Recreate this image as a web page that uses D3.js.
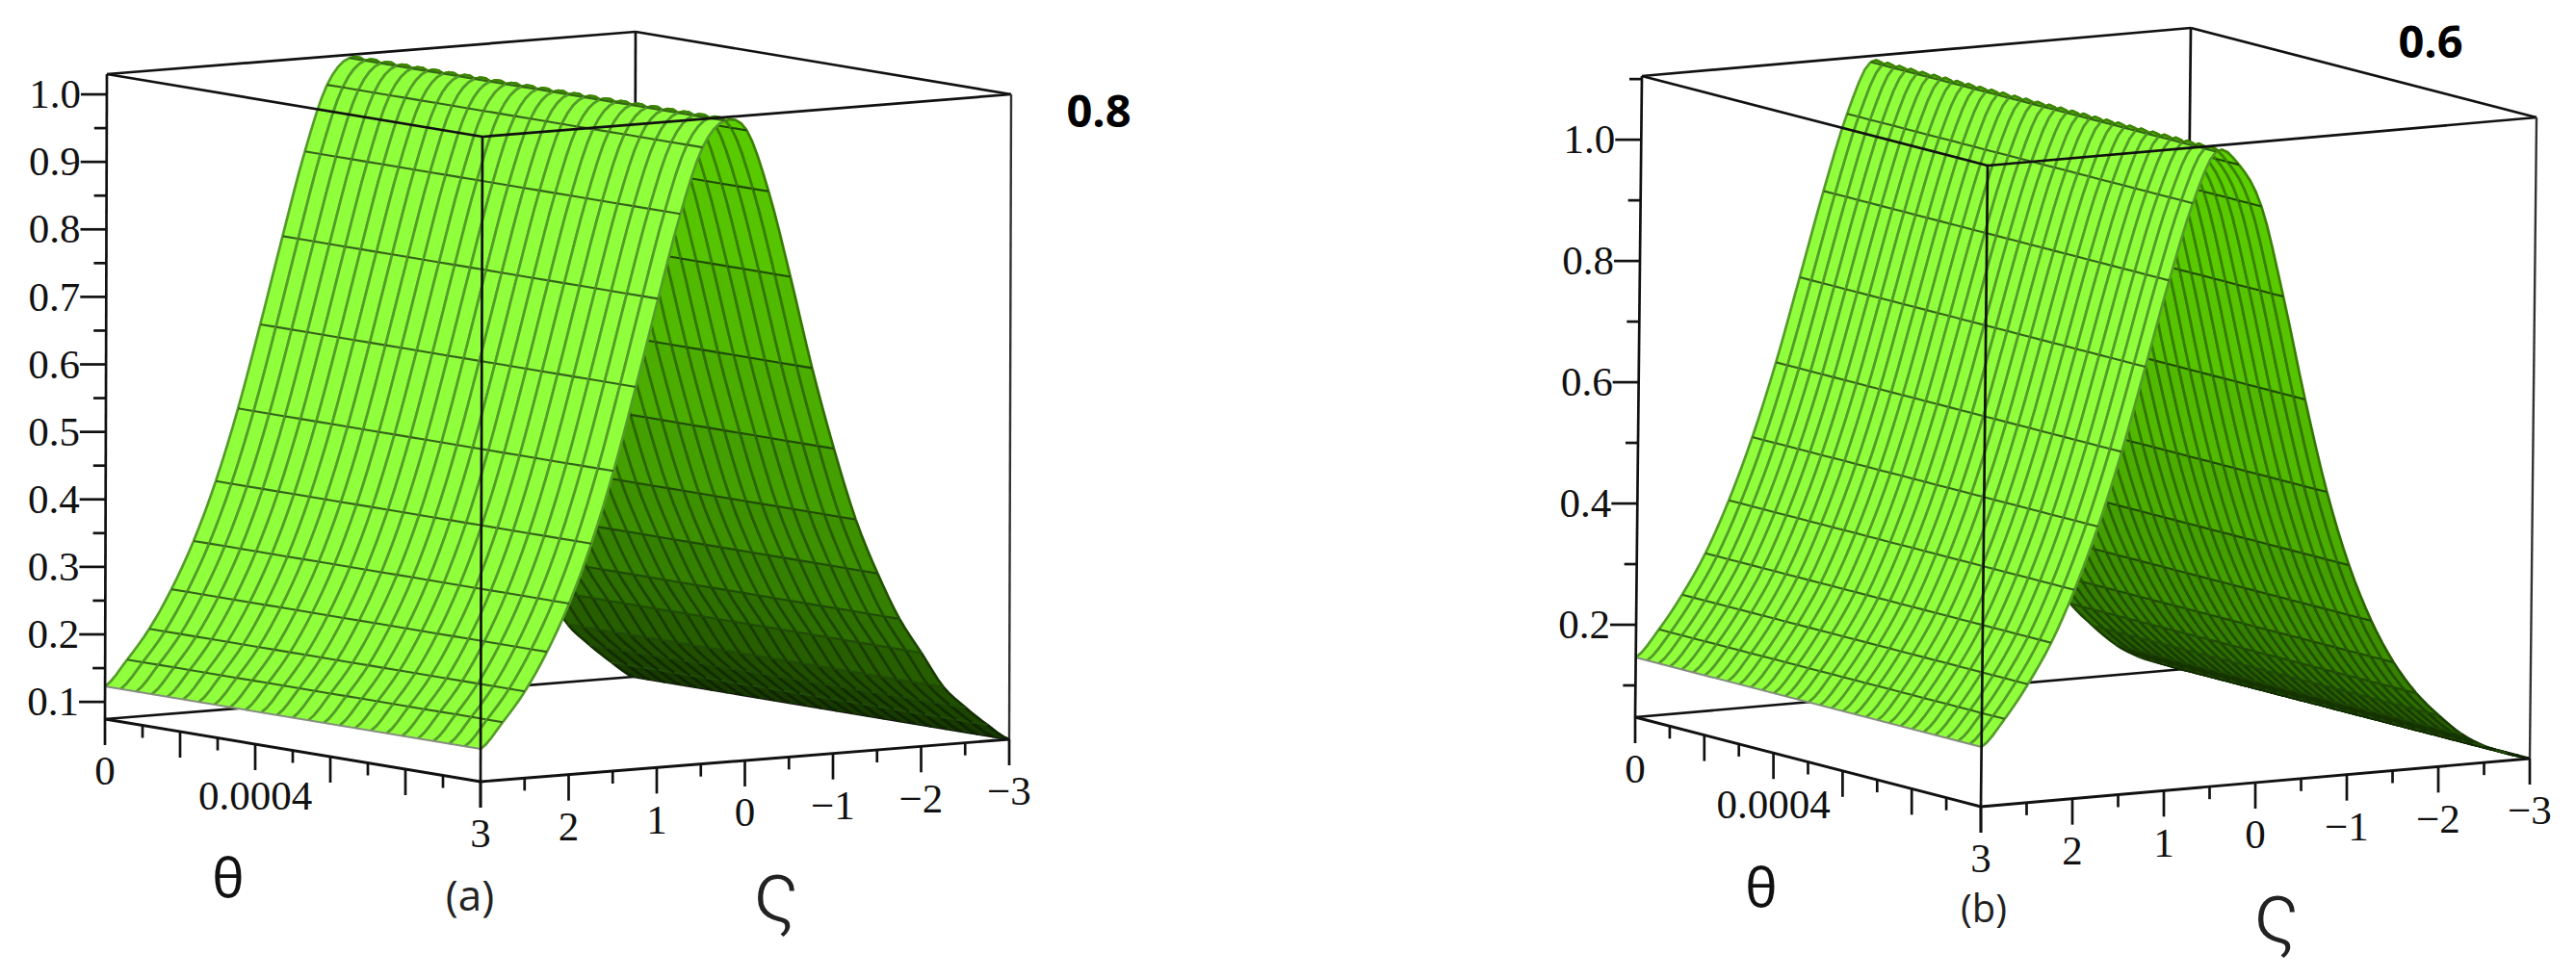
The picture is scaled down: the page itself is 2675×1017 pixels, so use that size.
<!DOCTYPE html>
<html>
<head>
<meta charset="utf-8">
<script src="https://cdn.jsdelivr.net/npm/d3@7"></script>
<style>
    html, body { margin: 0; padding: 0; background: #fff; }
    svg { display: block; }
    .serif { font-family: "Liberation Serif", "Times New Roman", "DejaVu Serif", serif; }
</style>
</head>
<body>
<svg id="chart"></svg>
<script>
// values
const zetaGrid = [3, 2.75, 2.5, 2.25, 2, 1.75, 1.5, 1.25, 1, 0.75, 0.5, 0.25, 0,
    -0.25, -0.5, -0.75, -1, -1.25, -1.5, -1.75, -2, -2.25, -2.5, -2.75, -3];
const profileA = [0.123, 0.160, 0.203, 0.259, 0.328, 0.414, 0.519, 0.641, 0.769, 0.892, 0.988, 1.025, 1.008,
    0.915, 0.786, 0.648, 0.526, 0.4185, 0.336, 0.266, 0.213, 0.160, 0.127, 0.0986, 0.0745];
const profileB = [0.146, 0.189, 0.243, 0.308, 0.392, 0.493, 0.613, 0.750, 0.889, 1.013, 1.095, 1.070, 0.998,
    0.846, 0.673, 0.517, 0.393, 0.298, 0.226, 0.172, 0.132, 0.098, 0.075, 0.060, 0.0476];

const thetaTicks = [0, 0.0001, 0.0002, 0.0003, 0.0004, 0.0005, 0.0006, 0.0007, 0.0008, 0.0009, 0.001];
const thetaLabels = [0, 0.0004];
const zetaTicks = [3, 2.5, 2, 1.5, 1, 0.5, 0, -0.5, -1, -1.5, -2, -2.5, -3];
const zetaLabels = [3, 2, 1, 0, -1, -2, -3];
const zTicksA = [0.1, 0.15, 0.2, 0.25, 0.3, 0.35, 0.4, 0.45, 0.5, 0.55, 0.6, 0.65, 0.7, 0.75, 0.8, 0.85, 0.9, 0.95, 1.0];
const zLabelsA = [0.1, 0.2, 0.3, 0.4, 0.5, 0.6, 0.7, 0.8, 0.9, 1.0];
const zTicksB = [0.1, 0.2, 0.3, 0.4, 0.5, 0.6, 0.7, 0.8, 0.9, 1.0, 1.1];
const zLabelsB = [0.2, 0.4, 0.6, 0.8, 1.0];

const shadeStops = [0.5, 0, -0.5, -1, -1.5, -2, -2.5, -3];
const shadeColors = ["#5fd400", "#5ccf00", "#56c400", "#4bad00", "#3d9000", "#2d6f00", "#214f00", "#173a00"];

const svgWidth = 2675, svgHeight = 1017;

const svg = d3.select("#chart").attr("width", svgWidth).attr("height", svgHeight);
svg.append("rect").attr("width", svgWidth).attr("height", svgHeight).attr("fill", "#fff");

const shade = d3.scaleLinear().domain(shadeStops).range(shadeColors);

function drawPanel(p) {
    const g = svg.append("g");

    const thetaT = d3.scaleLinear().domain([0, 0.001]).range([0, 1]);
    const zetaT = d3.scaleLinear().domain([3, -3]).range([0, 1]);
    const zT = d3.scaleLinear().domain(p.zDomain).range([0, 1]);

    function project(theta, zeta, z) {
        const a = thetaT(theta), b = zetaT(zeta), c = zT(z);
        return [
            p.origin[0] + a * p.thetaVec[0] + b * p.zetaVec[0] + c * p.zVec[0],
            p.origin[1] + a * p.thetaVec[1] + b * p.zetaVec[1] + c * p.zVec[1]
        ];
    }

    // rounds the drawn edge between two grid rows, same idea as d3.curveCatmullRom
    const last = p.profile.length - 1;
    function edgePoints(theta, j) {
        const v0 = p.profile[Math.max(j - 1, 0)], v1 = p.profile[j],
            v2 = p.profile[j + 1], v3 = p.profile[Math.min(j + 2, last)];
        return [0, 0.25, 0.5, 0.75, 1].map(t => {
            const z = 0.5 * (2 * v1 + (v2 - v0) * t + (2 * v0 - 5 * v1 + 4 * v2 - v3) * t * t
                + (3 * v1 - v0 - 3 * v2 + v3) * t * t * t);
            return project(theta, zetaGrid[j] + (zetaGrid[j + 1] - zetaGrid[j]) * t, z);
        });
    }

    function seg(sel, a, b, width, color) {
        return sel.append("line")
            .attr("x1", a[0]).attr("y1", a[1])
            .attr("x2", b[0]).attr("y2", b[1])
            .attr("stroke", color || "#111")
            .attr("stroke-width", width || 2.7);
    }

    const [zLo, zHi] = p.zDomain;
    const tMax = 0.001;

    // box edges behind the surface
    seg(g, project(0, -3, zLo), project(0, -3, zHi));
    seg(g, project(0, 3, zLo), project(0, -3, zLo));
    seg(g, project(tMax, -3, zLo), project(0, -3, zLo));
    seg(g, project(0, 3, zHi), project(0, -3, zHi));
    seg(g, project(0, -3, zHi), project(tMax, -3, zHi));

    // cells back to front so the ridge hides the far side
    const thetaGrid = d3.range(p.thetaSteps + 1).map(i => tMax * i / p.thetaSteps);
    const cells = [];
    for (let i = 0; i < thetaGrid.length - 1; i++) {
        for (let j = zetaGrid.length - 2; j >= 0; j--) {
            cells.push({ i: i, j: j });
        }
    }

    const line = d3.line();
    const isLight = d => zetaGrid[d.j + 1] >= p.lightFrom;
    const cell = g.append("g").selectAll("g").data(cells).join("g");

    cell.append("path")
        .attr("d", d => line(edgePoints(thetaGrid[d.i], d.j)
            .concat(edgePoints(thetaGrid[d.i + 1], d.j).reverse())) + "Z")
        .attr("fill", d => isLight(d) ? "#90ff3c" : shade(zetaGrid[d.j + 1]))
        .attr("stroke", d => isLight(d) ? "#90ff3c" : shade(zetaGrid[d.j + 1]))
        .attr("stroke-width", 0.5);

    // stripe along zeta, on both sides of the cell
    [0, 1].forEach(k => {
        cell.append("path")
            .attr("d", d => line(edgePoints(thetaGrid[d.i + k], d.j)))
            .attr("fill", "none")
            .attr("stroke", d => isLight(d) ? "#549c28" : d3.color(shade(zetaGrid[d.j + 1])).darker(1.25))
            .attr("stroke-width", 2.7);
    });

    // grid line across theta
    cell.append("path")
        .attr("d", d => line([
            project(thetaGrid[d.i], zetaGrid[d.j + 1], p.profile[d.j + 1]),
            project(thetaGrid[d.i + 1], zetaGrid[d.j + 1], p.profile[d.j + 1])
        ]))
        .attr("fill", "none")
        .attr("stroke", d => isLight(d) ? "#35631a" : "#1f4a08")
        .attr("stroke-width", d => zetaGrid[d.j + 1] === -3 ? 0 : 2.1);

    // low edge of the near side
    g.append("path")
        .attr("d", line([project(0, 3, p.profile[0]), project(tMax, 3, p.profile[0])]))
        .attr("stroke", "#858f7e")
        .attr("stroke-width", 2);

    // box edges in front of it
    seg(g, project(0, 3, zHi), project(tMax, 3, zHi));
    seg(g, project(tMax, 3, zHi), project(tMax, -3, zHi));
    seg(g, project(tMax, 3, zHi), project(tMax, 3, zLo));
    seg(g, project(0, 3, zHi), project(0, 3, zLo));
    seg(g, project(tMax, -3, zHi), project(tMax, -3, zLo), 2.4, "#333");
    seg(g, project(0, 3, zLo), project(tMax, 3, zLo), 2.9);
    seg(g, project(tMax, 3, zLo), project(tMax, -3, zLo), 2.9);

    // z axis
    p.zTicks.forEach(z => {
        const a = project(0, 3, z);
        const major = p.zLabels.some(v => Math.abs(v - z) < 1e-9);
        seg(g, a, [a[0] - (major ? 27 : 13), a[1]]);
    });
    g.append("g").selectAll("text").data(p.zLabels).join("text")
        .attr("class", "serif")
        .attr("x", d => project(0, 3, d)[0] - 27)
        .attr("y", d => project(0, 3, d)[1])
        .attr("dy", "0.33em")
        .attr("text-anchor", "end")
        .attr("font-size", 43)
        .attr("fill", "#111")
        .text(d3.format(".1f"));

    // theta axis
    thetaTicks.forEach((t, i) => {
        const a = project(t, 3, zLo);
        seg(g, a, [a[0], a[1] + (i % 2 === 0 ? 27 : 13)]);
    });
    g.append("g").selectAll("text").data(thetaLabels).join("text")
        .attr("class", "serif")
        .attr("x", d => project(d, 3, zLo)[0])
        .attr("y", d => project(d, 3, zLo)[1] + 27 + 27)
        .attr("dy", "0.33em")
        .attr("text-anchor", "middle")
        .attr("font-size", 43)
        .attr("fill", "#111")
        .text(d => d);

    // zeta axis
    zetaTicks.forEach((z, i) => {
        const a = project(tMax, z, zLo);
        seg(g, a, [a[0], a[1] + (i % 2 === 0 ? 27 : 13)]);
    });
    g.append("g").selectAll("text").data(zetaLabels).join("text")
        .attr("class", "serif")
        .attr("x", d => project(tMax, d, zLo)[0])
        .attr("y", d => project(tMax, d, zLo)[1] + 27 + 27)
        .attr("dy", "0.33em")
        .attr("text-anchor", "middle")
        .attr("font-size", 43)
        .attr("fill", "#111")
        .text(d3.format("d"));

    // titles
    g.append("text")
        .attr("x", p.thetaTitle[0]).attr("y", p.thetaTitle[1])
        .attr("text-anchor", "middle")
        .attr("font-family", "'Noto Sans', sans-serif")
        .attr("font-size", 56)
        .attr("fill", "#111")
        .text("θ");
    g.append("text")
        .attr("x", p.zetaTitle[0]).attr("y", p.zetaTitle[1])
        .attr("text-anchor", "middle")
        .attr("font-family", "Roboto, sans-serif")
        .attr("font-weight", 300)
        .attr("font-size", 89)
        .attr("fill", "#222")
        .text("ς");
    g.append("text")
        .attr("x", p.tag[0]).attr("y", p.tag[1])
        .attr("text-anchor", "middle")
        .attr("font-family", "'Open Sans', sans-serif")
        .attr("font-size", p.tagSize)
        .attr("fill", "#222")
        .text(p.tagText);
    g.append("text")
        .attr("x", p.param[0]).attr("y", p.param[1])
        .attr("text-anchor", "middle")
        .attr("font-family", "'Open Sans', sans-serif")
        .attr("font-weight", 700)
        .attr("font-size", 47)
        .attr("fill", "#000")
        .text(p.paramText);
}

drawPanel({
    profile: profileA, zDomain: [0.0745, 1.03], zTicks: zTicksA, zLabels: zLabelsA,
    origin: [109, 747], thetaVec: [390, 65], zetaVec: [549, -44], zVec: [2, -670],
    thetaSteps: 24, lightFrom: 0.25,
    thetaTitle: [237, 932], zetaTitle: [806, 957], tag: [488, 946], tagSize: 44, tagText: "(a)",
    param: [1141, 132], paramText: "0.8"
});

drawPanel({
    profile: profileB, zDomain: [0.0476, 1.105], zTicks: zTicksB, zLabels: zLabelsB,
    origin: [1698, 745], thetaVec: [359, 93], zetaVec: [570, -50], zVec: [7, -666],
    thetaSteps: 30, lightFrom: 0.5,
    thetaTitle: [1829, 942], zetaTitle: [2364, 979], tag: [2060, 958], tagSize: 40, tagText: "(b)",
    param: [2524, 60], paramText: "0.6"
});
</script>
</body>
</html>
